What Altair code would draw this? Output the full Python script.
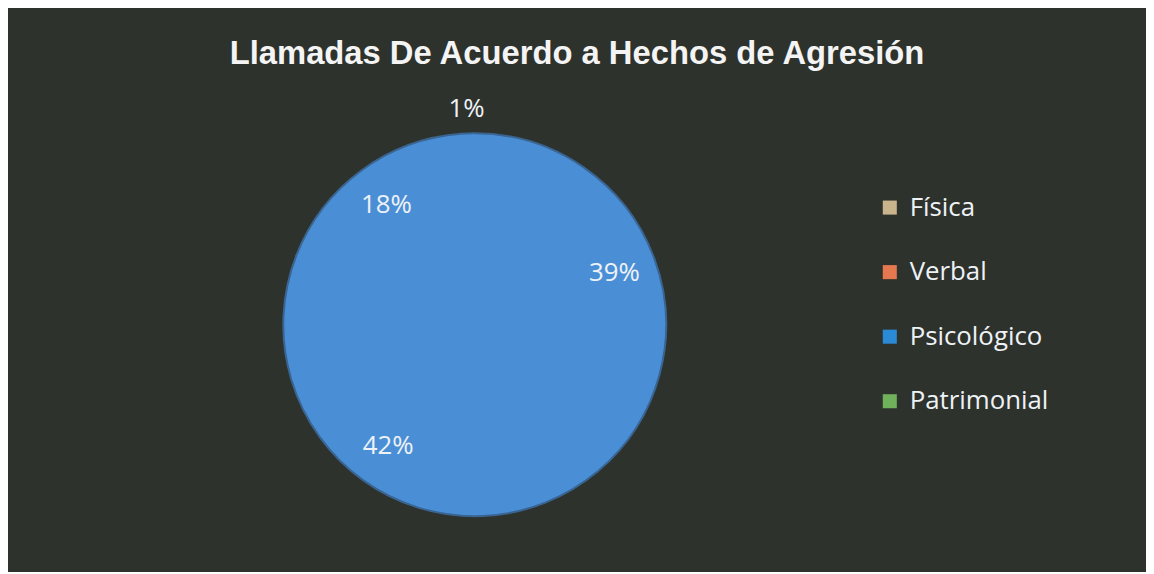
import math
import altair as alt
import pandas as pd

categories = ["Física", "Verbal", "Psicológico", "Patrimonial"]
percentages = [1, 39, 42, 18]
legend_colors = ["#c9b48b", "#e5784f", "#2b8ad5", "#6fb25b"]
slice_order = [0, 1, 2, 3]

df = pd.DataFrame({"cat": categories, "pct": percentages, "idx": slice_order})

W, H_TOTAL = 1146, 564
TOP = 75
CX, CY = 478 - 8, 325 - 8 - TOP
R = 191
PIE_BLUE = "#4a8fd6"
RIM = "#3a6592"
TEXT_COLOR = "#eef2f6"
BG = "#2e322d"
ROT = -0.07  # start angle of the first slice (radians)

base = alt.Chart(df).transform_calculate(
    label="datum.pct + '%'"
).encode(
    theta=alt.Theta(
        "pct:Q", stack=True,
        scale=alt.Scale(range=[ROT, ROT + 2 * math.pi]),
    ),
    order=alt.Order("idx:Q", sort="ascending"),
    detail="cat:N",
    x=alt.value(CX),
    y=alt.value(CY),
)

legend_arc = base.mark_arc(outerRadius=R + 2).encode(
    color=alt.Color(
        "cat:N",
        title=None,
        scale=alt.Scale(domain=categories, range=legend_colors),
        legend=alt.Legend(
            orient="none",
            legendX=875,
            legendY=111,
            symbolType="square",
            symbolSize=200,
            symbolStrokeWidth=0,
            labelFontSize=26,
            labelFont="Open Sans",
            labelColor=TEXT_COLOR,
            labelOffset=7,
            rowPadding=39,
            padding=0,
        ),
    )
)

rim_arc = base.mark_arc(outerRadius=R + 2, fill=RIM, stroke=RIM, strokeWidth=1.5)

top_arc = base.mark_arc(
    outerRadius=R, fill=PIE_BLUE, stroke=PIE_BLUE, strokeWidth=1.5
)

inner_text = base.mark_text(
    radius=150, fontSize=26, font="Open Sans", color=TEXT_COLOR
).encode(
    text=alt.condition("datum.pct >= 5", "label:N", alt.value(""))
)

outer_text = base.mark_text(
    radius=217, fontSize=26, font="Open Sans", color=TEXT_COLOR
).encode(
    text=alt.condition("datum.pct < 5", "label:N", alt.value(""))
)

chart = alt.layer(legend_arc, rim_arc, top_arc, inner_text, outer_text).properties(
    width=W,
    height=H_TOTAL - TOP,
    padding={"top": TOP, "left": 0, "right": 0, "bottom": 0},
    autosize="none",
    background=BG,
    title=alt.TitleParams(
        "Llamadas De Acuerdo a Hechos de Agresión",
        font="Liberation Sans",
        fontSize=33,
        fontWeight="bold",
        color="#f4f4f4",
        anchor="middle",
        offset=14,
    ),
).configure_view(strokeOpacity=0)

chart.save("out.html", embed_options={"renderer": "svg", "actions": False})
